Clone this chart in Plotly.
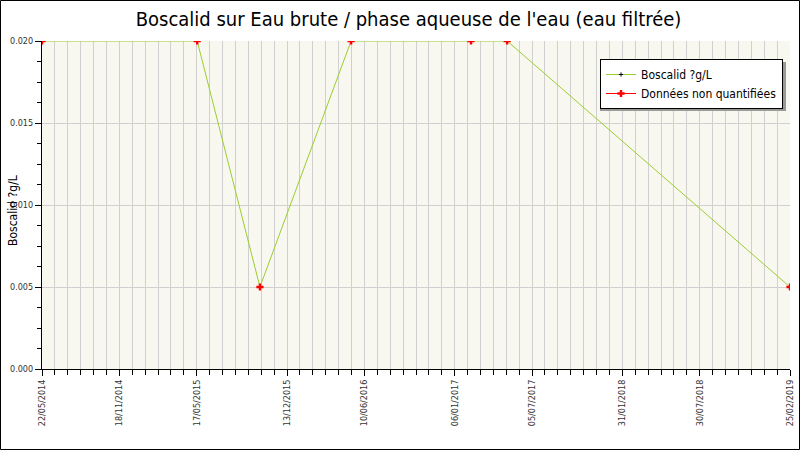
import plotly.graph_objects as go

# Boscalid - Eau brute / phase aqueuse (eau filtrée)
dates = ["2014-05-22", "2015-05-18", "2015-10-11", "2016-05-10",
         "2017-02-13", "2017-05-08", "2019-02-25"]
valeurs = [0.020, 0.020, 0.005, 0.020, 0.020, 0.020, 0.005]

# toutes les mesures sont non quantifiées
dates_nq = dates
valeurs_nq = valeurs

tick_dates = ["2014-05-22", "2014-11-18", "2015-05-17", "2015-12-13", "2016-06-10",
              "2017-01-06", "2017-07-05", "2018-01-31", "2018-07-30", "2019-02-25"]
tick_labels = ["22/05/2014", "18/11/2014", "17/05/2015", "13/12/2015", "10/06/2016",
               "06/01/2017", "05/07/2017", "31/01/2018", "30/07/2018", "25/02/2019"]

police = "DejaVu Sans Condensed"
W, H = 800, 450
ml, mr, mt, mb = 42, 10, 41, 81
pw, ph = W - ml - mr, H - mt - mb

# points isolés (None entre chaque) pour avoir un trait rouge dans la légende sans relier
x_nq, y_nq = [], []
for d, v in zip(dates_nq, valeurs_nq):
    x_nq += [d, None]
    y_nq += [v, None]

fig = go.Figure()
fig.add_trace(go.Scatter(x=dates, y=valeurs, mode="lines+markers", name="Boscalid ?g/L",
                         line=dict(color="#9ACD32", width=1),
                         marker=dict(color="black", size=3, symbol="cross-thin",
                                     line=dict(color="black", width=1))))
fig.add_trace(go.Scatter(x=x_nq, y=y_nq, mode="lines+markers", name="Données non quantifiées",
                         connectgaps=False, line=dict(color="red", width=1),
                         marker=dict(color="red", size=6, symbol="cross",
                                     line=dict(width=0))))

# cadre autour de l'image
fig.add_shape(type="rect", xref="paper", yref="paper",
              x0=-ml / pw + 0.5 / pw, x1=1 + (mr - 0.5) / pw,
              y0=-mb / ph + 0.5 / ph, y1=1 + (mt - 0.5) / ph,
              line=dict(color="black", width=1))
# ombre de la légende
fig.add_shape(type="rect", xref="paper", yref="paper", layer="above",
              x0=(600 - ml) / pw, x1=(786 - ml) / pw,
              y0=(H - mb - 111) / ph, y1=(H - mb - 62) / ph,
              line=dict(width=0), fillcolor="#999999")

# titre de l'axe y
fig.add_annotation(text="Boscalid ?g/L", xref="paper", yref="paper",
                   x=(13 - ml) / pw, y=(H - mb - 211) / ph, textangle=-90,
                   showarrow=False, xanchor="center", yanchor="middle",
                   font=dict(family=police, size=12, color="black"))

fig.update_layout(
    width=W, height=H,
    margin=dict(l=ml, r=mr, t=mt, b=mb, autoexpand=False),
    paper_bgcolor="white", plot_bgcolor="#F8F8F0",
    font=dict(family=police, size=9, color="#333333"),
    title=dict(text="Boscalid sur Eau brute / phase aqueuse de l'eau (eau filtrée)",
               x=0.49, xref="paper", y=1 - 19 / H, yanchor="middle",
               font=dict(family=police, size=20, color="black")),
    showlegend=True,
    legend=dict(x=(783 - ml) / pw, xanchor="right", y=(H - mb - 59) / ph, yanchor="top",
                bgcolor="white", bordercolor="black", borderwidth=1,
                font=dict(family=police, size=12, color="black"),
                tracegroupgap=0, itemwidth=30),
    xaxis=dict(range=["2014-05-22", "2019-02-25"], type="date", automargin=False,
               tickvals=tick_dates, ticktext=tick_labels, tickangle=-90,
               showgrid=False, showline=True, linecolor="black", linewidth=1,
               ticks="outside", ticklen=6, tickcolor="black",
               minor=dict(tick0="2014-05-22", dtick=30 * 86400000, ticks="outside",
                          ticklen=5, tickcolor="black", showgrid=True,
                          gridcolor="#D0D0D0", gridwidth=1),
               zeroline=False),
    yaxis=dict(range=[0, 0.020], dtick=0.005, tickformat=".3f", automargin=False,
               showgrid=True, gridcolor="#D0D0D0", gridwidth=1,
               showline=True, linecolor="black", linewidth=1,
               ticks="outside", ticklen=6, tickcolor="black",
               minor=dict(dtick=0.00125, ticks="outside", ticklen=4, tickcolor="black",
                          showgrid=False),
               zeroline=False),
)

# pas de marge de page autour du graphique
fig.write_html("out.html", config={"displayModeBar": False},
               post_script="document.body.style.margin='0';")
